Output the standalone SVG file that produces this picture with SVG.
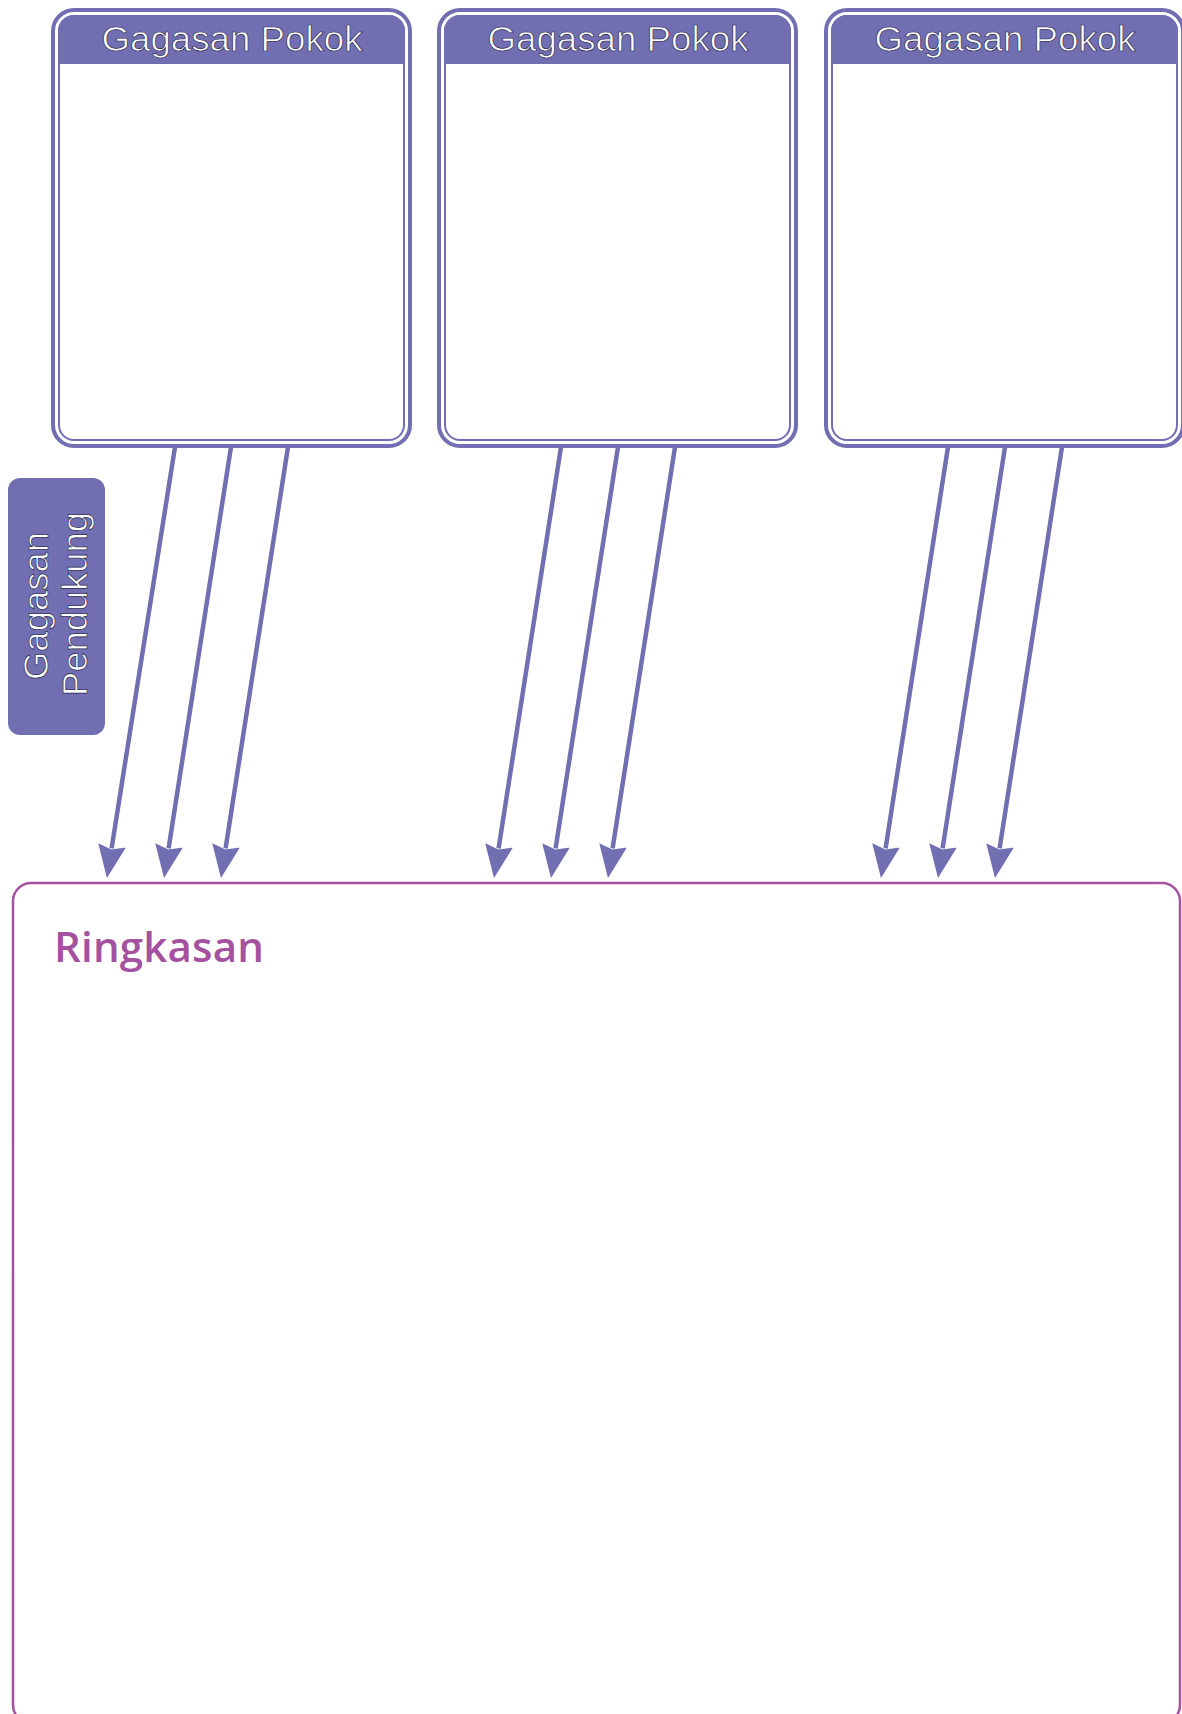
<svg xmlns="http://www.w3.org/2000/svg" width="1182" height="1714" viewBox="0 0 1182 1714">
<style>
.outer{fill:none;stroke:#716fb2;stroke-width:4}
.inner{fill:#fff;stroke:#716fb2;stroke-width:2}
.hdr{fill:#716fb2}
.htxt{font-family:"Liberation Sans",Arial,sans-serif;font-size:35px;fill:#fff;stroke:#2a2850;stroke-width:0.7;text-anchor:middle}
.stxt{font-family:"Liberation Sans",Arial,sans-serif;font-size:35px;fill:#fff;stroke:#2a2850;stroke-width:0.7;text-anchor:middle}
.conn{fill:none;stroke:#716fb2;stroke-width:4.5;marker-end:url(#ah)}
</style>
<defs>
<marker id="ah" markerUnits="userSpaceOnUse" markerWidth="40" markerHeight="32" viewBox="0 -16 40 32" refX="3" refY="0" orient="auto">
<path d="M0,-14 L33,0 L0,14 L4,0 z" fill="#716fb2"/>
</marker>
</defs>
<rect width="1182" height="1714" fill="#fff"/>
<g id="pokok1" transform="translate(51,0)">
<rect class="inner" x="8" y="16" width="345" height="424" rx="15"/>
<path class="hdr" d="M7,64 V31 A16,16 0 0 1 23,15 H338 A16,16 0 0 1 354,31 V64 Z"/>
<rect class="outer" x="2" y="10" width="357" height="436" rx="21"/>
<text class="htxt" x="181" y="51" textLength="261" lengthAdjust="spacingAndGlyphs">Gagasan Pokok</text>
</g>
<g id="pokok2" transform="translate(437,0)">
<rect class="inner" x="8" y="16" width="345" height="424" rx="15"/>
<path class="hdr" d="M7,64 V31 A16,16 0 0 1 23,15 H338 A16,16 0 0 1 354,31 V64 Z"/>
<rect class="outer" x="2" y="10" width="357" height="436" rx="21"/>
<text class="htxt" x="181" y="51" textLength="261" lengthAdjust="spacingAndGlyphs">Gagasan Pokok</text>
</g>
<g id="pokok3" transform="translate(824,0)">
<rect class="inner" x="8" y="16" width="345" height="424" rx="15"/>
<path class="hdr" d="M7,64 V31 A16,16 0 0 1 23,15 H338 A16,16 0 0 1 354,31 V64 Z"/>
<rect class="outer" x="2" y="10" width="357" height="436" rx="21"/>
<text class="htxt" x="181" y="51" textLength="261" lengthAdjust="spacingAndGlyphs">Gagasan Pokok</text>
</g>
<g id="pendukung">
<rect x="8" y="478" width="97" height="257" rx="12" fill="#716fb2"/>
<text class="stxt" transform="translate(48,606) rotate(-90)" textLength="148" lengthAdjust="spacingAndGlyphs">Gagasan</text>
<text class="stxt" transform="translate(87,604) rotate(-90)" textLength="184" lengthAdjust="spacingAndGlyphs">Pendukung</text>
</g>
<g id="ringkasan">
<rect x="13" y="883" width="1167" height="840" rx="18" fill="none" stroke="#a4519f" stroke-width="2.5"/>
<text x="54" y="962" font-family="'Open Sans','Liberation Sans',sans-serif" font-weight="600" font-size="42" fill="#a4519f" textLength="210">Ringkasan</text>
</g>
<g id="connectors">
<path class="conn" d="M175,447 L111.6,848.4"/>
<path class="conn" d="M231,447 L168.6,848.4"/>
<path class="conn" d="M288,447 L225.6,848.4"/>
<path class="conn" d="M561,447 L498.6,848.4"/>
<path class="conn" d="M618,447 L555.6,848.4"/>
<path class="conn" d="M675,447 L612.6,848.4"/>
<path class="conn" d="M948,447 L885.6,848.4"/>
<path class="conn" d="M1005,447 L942.6,848.4"/>
<path class="conn" d="M1062,447 L999.6,848.4"/>
</g>
</svg>
